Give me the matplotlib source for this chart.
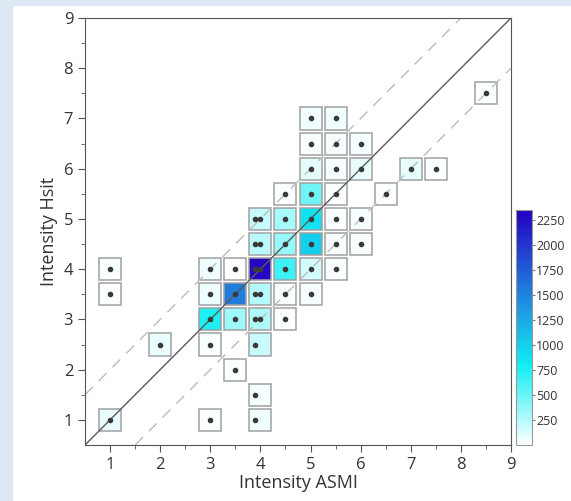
import numpy as np
import matplotlib.pyplot as plt
from matplotlib.patches import Rectangle
from matplotlib.colors import LinearSegmentedColormap, Normalize

plt.rcParams['font.family'] = ['Open Sans', 'DejaVu Sans']

# cells: ASMI intensity, Hsit intensity, number of cases
cell_x = [5, 5.5,
          5, 5.5, 6,
          5, 5.5, 6, 7, 7.5,
          4.5, 5, 5.5, 6.5,
          4, 4.5, 5, 5.5, 6,
          4, 4.5, 5, 5.5, 6,
          1, 3, 3.5, 4, 4.5, 5, 5.5,
          1, 3, 3.5, 4, 4.5, 5,
          3, 3.5, 4, 4.5,
          2, 3, 4,
          3.5,
          4,
          1, 3, 4,
          8.5]
cell_y = [7, 7,
          6.5, 6.5, 6.5,
          6, 6, 6, 6, 6,
          5.5, 5.5, 5.5, 5.5,
          5, 5, 5, 5, 5,
          4.5, 4.5, 4.5, 4.5, 4.5,
          4, 4, 4, 4, 4, 4, 4,
          3.5, 3.5, 3.5, 3.5, 3.5, 3.5,
          3, 3, 3, 3,
          2.5, 2.5, 2.5,
          2,
          1.5,
          1, 1, 1,
          7.5]
counts = [50, 50,
          20, 30, 30,
          90, 30, 80, 90, 10,
          10, 480, 10, 10,
          200, 300, 880, 10, 30,
          230, 350, 1000, 20, 20,
          20, 60, 5, 2300, 650, 150, 20,
          10, 60, 1550, 250, 20, 30,
          760, 330, 270, 10,
          80, 20, 190,
          10,
          40,
          80, 10, 60,
          10]
# cells holding two distinct points (second point at x = 4.0)
double_y = [5, 4.5, 4, 3.5, 3]

cmap = LinearSegmentedColormap.from_list(
    'wc', [(0, '#ffffff'), (0.34, '#10eef2'), (0.62, '#1f8ae0'), (1, '#2400c0')])
norm = Normalize(vmin=0, vmax=2350)

fig = plt.figure(figsize=(5.71, 5.01), dpi=100)
fig.patches.append(Rectangle((0, 0), 12 / 571, 1, transform=fig.transFigure,
                             color='#dde8f2', zorder=0))
fig.patches.append(Rectangle((0, 1 - 5 / 501), 1, 5 / 501, transform=fig.transFigure,
                             color='#dde8f2', zorder=0))

ax = fig.add_axes([85 / 571, 1 - 445 / 501, 426 / 571, 427 / 501])
side = 0.44
for x, y, c in zip(cell_x, cell_y, counts):
    ax.add_patch(Rectangle((x - side / 2, y - side / 2), side, side,
                           facecolor=cmap(norm(c)), edgecolor='#a0a0a0', lw=1.1, zorder=1))

lim = [0.5, 9]
ax.plot(lim, lim, color='#5a5a5a', lw=1.0, zorder=2)
ax.plot([0.5, 8], [1.5, 9], color='#bcbcbc', lw=1.0, ls=(0, (8, 6)), zorder=2)
ax.plot([1.5, 9], [0.5, 8], color='#bcbcbc', lw=1.0, ls=(0, (8, 6)), zorder=2)

dot_x = [3.9 if x == 4 else x for x in cell_x]
ax.scatter(dot_x, cell_y, s=9, color='#3a3a3a', zorder=3)
ax.scatter([4.0] * len(double_y), double_y, s=9, color='#3a3a3a', zorder=3)

ax.set_xlim(lim)
ax.set_ylim(lim)
ax.set_xticks(range(1, 10))
ax.set_yticks(range(1, 10))
ax.set_xticks(np.arange(1.5, 9, 1), minor=True)
ax.set_yticks(np.arange(1.5, 9, 1), minor=True)
ax.tick_params(which='both', direction='out', color='#555555', labelcolor='#333333',
               labelsize=12)
ax.tick_params(which='major', length=5)
ax.tick_params(which='minor', length=3)
for s in ax.spines.values():
    s.set_color('#555555')
ax.set_xlabel('Intensity ASMI', fontsize=13, color='#333333', labelpad=1)
ax.set_ylabel('Intensity Hsit', fontsize=13, color='#333333', labelpad=4)

cax = fig.add_axes([516 / 571, 1 - 445 / 501, 16 / 571, 235 / 501])
cb = fig.colorbar(plt.cm.ScalarMappable(norm=norm, cmap=cmap), cax=cax)
cb.set_ticks(range(250, 2300, 250))
cb.outline.set_edgecolor('#999999')
cax.tick_params(labelsize=9, length=2, color='#777777', labelcolor='#333333', pad=1)

fig.savefig('out.png', dpi=100)
